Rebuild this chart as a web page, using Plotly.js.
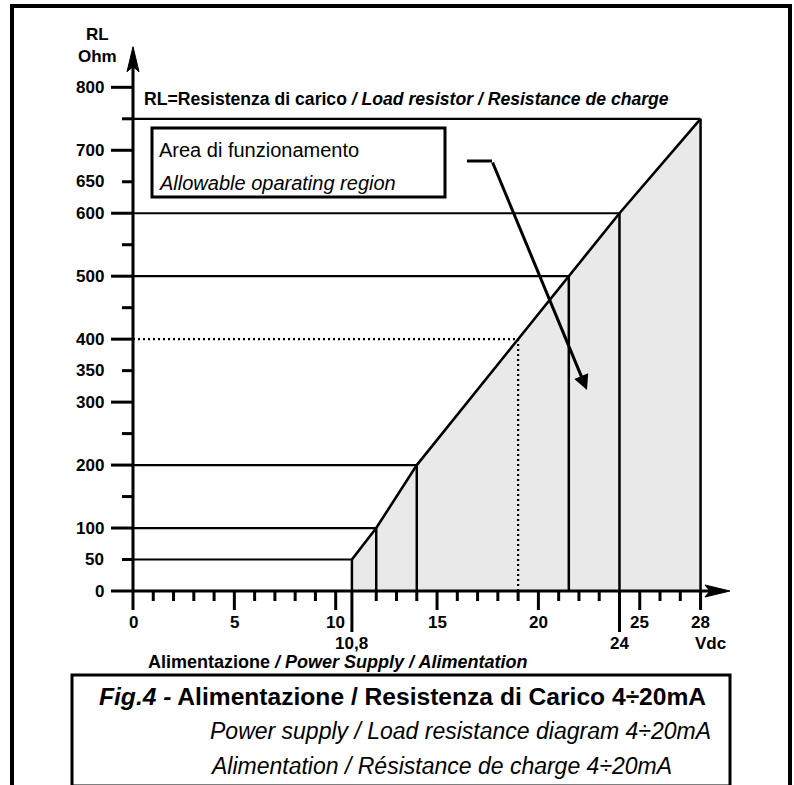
<!DOCTYPE html>
<html><head><meta charset="utf-8">
<script src="https://cdn.plot.ly/plotly-3.0.1.min.js"></script>
<style>html,body{margin:0;padding:0;background:#fff}#chart{width:794px;height:785px}</style>
</head><body><div id="chart"></div>
<script>
// ---- data ----
const voltage = [10.8, 12, 14, 19, 21.5, 24, 28];
const resistance = [50, 100, 200, 400, 500, 600, 750];
const exampleVoltage = 19;
const xLabelVals = [0, 5, 10, 15, 20, 25, 28];
const xLabelText = ['0', '5', '10', '15', '20', '25', '28'];
const xMarkVals = [10.8, 24];
const xMarkText = ['10,8', '24'];
const xMinorVals = [1,2,3,4,6,7,8,9,12,13,14,16,17,18,19,21,22,23,26,27];
const yMajorVals = [0,100,200,300,400,500,600,700,800];
const yMinorVals = [50,150,250,350,450,550,650,750];
const yLabelVals = [0,50,100,200,300,350,400,500,600,650,700,800];
const xAxisEnd = 29.45;
const yAxisEnd = 864.5;

// ---- layout helpers ----
const W = 794, H = 785;
const FONT = 'Liberation Sans, Arial, Helvetica, sans-serif';
const PX = p => p / W;
const PY = p => 1 - p / H;

const shapes = [];
const annotations = [];
const black = '#000';

function line(x0, y0, x1, y1, w, extra) {
  shapes.push(Object.assign({type: 'line', xref: 'x', yref: 'y', x0, y0, x1, y1,
    line: {color: black, width: w}}, extra || {}));
}
function text(t, x, y, opts) {
  annotations.push(Object.assign({text: t, x, y, showarrow: false,
    font: {family: FONT, size: 17, color: black, weight: 'bold'}}, opts));
}

// outer border
shapes.push({type: 'rect', xref: 'paper', yref: 'paper', x0: PX(12), x1: PX(790), y0: -0.05, y1: PY(6),
  line: {color: black, width: 4}});

// guide lines from each corner of the operating limit
voltage.forEach((v, i) => {
  const r = resistance[i];
  const dotted = v === exampleVoltage;
  const st = dotted ? {dash: '2px,3px'} : {};
  shapes.push({type: 'line', xref: 'x', yref: 'y', x0: 0, x1: v, y0: r, y1: r,
    line: Object.assign({color: black, width: 2.2}, st)});
  shapes.push({type: 'line', xref: 'x', yref: 'y', x0: v, x1: v, y0: 0, y1: r,
    line: Object.assign({color: black, width: dotted ? 2.2 : 2.5}, st)});
});

// axes shafts
line(0, 0, 0, yAxisEnd - 30, 3);
line(0, 0, xAxisEnd - 1, 0, 3);
// arrow heads
shapes.push({type: 'path', xref: 'x', yref: 'y', xsizemode: 'pixel', ysizemode: 'pixel',
  xanchor: 0, yanchor: yAxisEnd, path: 'M0,0 L6,-25 L0,-20 L-6,-25 Z',
  fillcolor: black, line: {color: black, width: 1}});
shapes.push({type: 'path', xref: 'x', yref: 'y', xsizemode: 'pixel', ysizemode: 'pixel',
  xanchor: xAxisEnd, yanchor: 0, path: 'M0,0 L-25,6 L-20,0 L-25,-6 Z',
  fillcolor: black, line: {color: black, width: 1}});

// ticks (pixel lengths)
function xTick(v, len) {
  shapes.push({type: 'line', xref: 'x', yref: 'y', ysizemode: 'pixel', yanchor: 0,
    x0: v, x1: v, y0: 0, y1: -len, line: {color: black, width: 3}});
}
function yTick(v, len) {
  shapes.push({type: 'line', xref: 'x', yref: 'y', xsizemode: 'pixel', xanchor: 0,
    x0: -len, x1: 0, y0: v, y1: v, line: {color: black, width: 3}});
}
xLabelVals.forEach(v => xTick(v, 19));
xMinorVals.forEach(v => xTick(v, 10));
xMarkVals.forEach(v => xTick(v, 41));
yMajorVals.forEach(v => yTick(v, 22));
yMinorVals.forEach(v => yTick(v, 11));

// tick labels
yLabelVals.forEach(v => text(String(v), PX(106), v, {xref: 'paper', yref: 'y', xanchor: 'right', yanchor: 'middle'}));
xLabelVals.forEach((v, i) => text(xLabelText[i], v, PY(622), {xref: 'x', yref: 'paper', xanchor: 'center', yanchor: 'middle'}));
xMarkVals.forEach((v, i) => text(xMarkText[i], v, PY(643), {xref: 'x', yref: 'paper', xanchor: 'center', yanchor: 'middle'}));
text('Vdc', PX(710), PY(643), {xref: 'paper', yref: 'paper', xanchor: 'center', yanchor: 'middle'});
text('RL', PX(97), PY(35), {xref: 'paper', yref: 'paper', xanchor: 'center', yanchor: 'middle'});
text('Ohm', PX(97), PY(57), {xref: 'paper', yref: 'paper', xanchor: 'center', yanchor: 'middle'});
text('RL=Resistenza di carico <i>/ Load resistor / Resistance de charge</i>', PX(142), PY(99),
  {xref: 'paper', yref: 'paper', xanchor: 'left', yanchor: 'middle',
   font: {family: FONT, size: 17.6, color: black, weight: 'bold'}});
text('Alimentazione <i>/ Power Supply / Alimentation</i>', PX(146), PY(662),
  {xref: 'paper', yref: 'paper', xanchor: 'left', yanchor: 'middle',
   font: {family: FONT, size: 18, color: black, weight: 'bold'}});

// operating region box + pointer
shapes.push({type: 'rect', xref: 'paper', yref: 'paper', x0: PX(152), x1: PX(445), y0: PY(197), y1: PY(128),
  line: {color: black, width: 3}, fillcolor: 'rgba(0,0,0,0)'});
text('Area di funzionamento', PX(157), PY(150), {xref: 'paper', yref: 'paper', xanchor: 'left', yanchor: 'middle',
  font: {family: FONT, size: 20, color: black, weight: 'normal'}});
text('<i>Allowable oparating region</i>', PX(157), PY(183), {xref: 'paper', yref: 'paper', xanchor: 'left', yanchor: 'middle',
  font: {family: FONT, size: 20, color: black, weight: 'normal'}});
shapes.push({type: 'line', xref: 'paper', yref: 'paper', x0: PX(467), x1: PX(492), y0: PY(161), y1: PY(161),
  line: {color: black, width: 3}});
annotations.push({text: '', xref: 'paper', yref: 'paper', x: PX(587), y: PY(390), ax: -95, ay: -229,
  showarrow: true, arrowhead: 2, arrowsize: 1, arrowwidth: 3, arrowcolor: black, standoff: 0});

// caption box
shapes.push({type: 'rect', xref: 'paper', yref: 'paper', x0: PX(72), x1: PX(730), y0: PY(786), y1: PY(675),
  line: {color: black, width: 3}, fillcolor: 'rgba(0,0,0,0)'});
text('<i>Fig.4 -</i> Alimentazione / Resistenza di Carico 4÷20mA', PX(97), PY(696), {xref: 'paper', yref: 'paper', xanchor: 'left', yanchor: 'middle',
  font: {family: FONT, size: 24.6, color: black, weight: 'bold'}});
text('<i>Power supply / Load resistance diagram 4÷20mA</i>', PX(208), PY(731), {xref: 'paper', yref: 'paper', xanchor: 'left', yanchor: 'middle',
  font: {family: FONT, size: 23, color: black, weight: 'normal'}});
text('<i>Alimentation / Résistance de charge 4÷20mA</i>', PX(208), PY(766), {xref: 'paper', yref: 'paper', xanchor: 'left', yanchor: 'middle',
  font: {family: FONT, size: 23, color: black, weight: 'normal'}});

// ---- traces ----
const n = voltage.length;
const regionX = [voltage[0]].concat(voltage, [voltage[n - 1], voltage[0]]);
const regionY = [0].concat(resistance, [0, 0]);
const traces = [
  {type: 'scatter', mode: 'lines', x: regionX, y: regionY, fill: 'toself', fillcolor: '#e9e9e9',
   line: {width: 0, color: 'rgba(0,0,0,0)'}, hoverinfo: 'skip'},
  {type: 'scatter', mode: 'lines', x: voltage, y: resistance, line: {color: black, width: 2.6}, hoverinfo: 'skip'}
];

const layout = {
  width: W, height: H,
  margin: {l: 0, r: 0, t: 0, b: 0, pad: 0},
  paper_bgcolor: '#fff', plot_bgcolor: '#fff',
  showlegend: false,
  xaxis: {range: [-6.5614, 32.610], visible: false, fixedrange: true},
  yaxis: {range: [-308.13, 938.69], visible: false, fixedrange: true},
  shapes, annotations
};
Plotly.newPlot('chart', traces, layout, {staticPlot: true, displayModeBar: false});
</script>
</body></html>
